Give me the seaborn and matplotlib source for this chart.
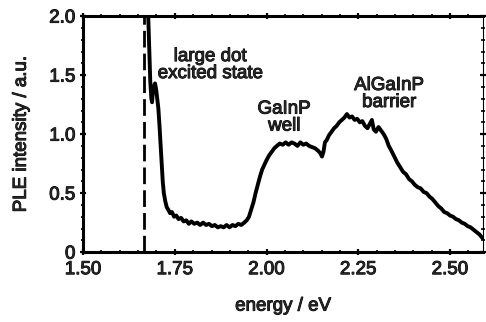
import matplotlib
matplotlib.use("Agg")
import matplotlib.pyplot as plt
import matplotlib.patheffects as pe
import seaborn as sns
import pandas as pd
from matplotlib.ticker import MultipleLocator

energy = [1.674, 1.677, 1.680, 1.683, 1.686, 1.688, 1.690, 1.693, 1.696, 1.699,
          1.702, 1.705, 1.708, 1.711, 1.714, 1.717, 1.720, 1.724, 1.728, 1.732,
          1.737, 1.742, 1.748, 1.754, 1.760, 1.767, 1.774, 1.781, 1.788, 1.795,
          1.803, 1.811, 1.819, 1.827, 1.835, 1.843, 1.851, 1.859, 1.867, 1.875,
          1.883, 1.891, 1.899, 1.907, 1.915, 1.923, 1.931, 1.939, 1.946, 1.952,
          1.958, 1.964, 1.970, 1.976, 1.982, 1.988, 1.994, 2.000, 2.007, 2.014,
          2.021, 2.028, 2.036, 2.044, 2.052, 2.060, 2.068, 2.076, 2.084, 2.092,
          2.100, 2.108, 2.116, 2.124, 2.132, 2.140, 2.146, 2.151, 2.155, 2.159,
          2.164, 2.170, 2.177, 2.184, 2.191, 2.198, 2.205, 2.212, 2.219, 2.226,
          2.233, 2.240, 2.247, 2.254, 2.261, 2.268, 2.275, 2.282, 2.287, 2.292,
          2.298, 2.305, 2.312, 2.319, 2.326, 2.333, 2.340, 2.348, 2.356, 2.364,
          2.372, 2.380, 2.388, 2.396, 2.404, 2.412, 2.420, 2.428, 2.436, 2.444,
          2.452, 2.460, 2.468, 2.476, 2.484, 2.492, 2.500, 2.508, 2.516, 2.524,
          2.532, 2.540, 2.548, 2.556, 2.564, 2.572, 2.580, 2.588]

intensity = [2.30, 2.05, 1.75, 1.45, 1.30, 1.27, 1.36, 1.40, 1.43, 1.38,
             1.30, 1.22, 1.08, 0.92, 0.76, 0.60, 0.50, 0.43, 0.38, 0.36,
             0.33, 0.34, 0.30, 0.31, 0.28, 0.29, 0.26, 0.27, 0.24, 0.26,
             0.24, 0.25, 0.23, 0.25, 0.23, 0.24, 0.22, 0.23, 0.21, 0.22,
             0.21, 0.23, 0.21, 0.23, 0.22, 0.24, 0.23, 0.25, 0.27, 0.30,
             0.36, 0.42, 0.50, 0.57, 0.64, 0.70, 0.74, 0.78, 0.82, 0.85,
             0.88, 0.90, 0.92, 0.91, 0.93, 0.91, 0.93, 0.92, 0.90, 0.93,
             0.91, 0.92, 0.90, 0.89, 0.88, 0.86, 0.84, 0.81, 0.85, 0.93,
             0.95, 0.99, 1.02, 1.05, 1.07, 1.10, 1.12, 1.14, 1.17, 1.14,
             1.15, 1.12, 1.13, 1.10, 1.11, 1.07, 1.05, 1.09, 1.12, 1.04,
             1.02, 1.06, 1.03, 1.00, 0.96, 0.90, 0.86, 0.81, 0.76, 0.72,
             0.68, 0.66, 0.62, 0.60, 0.57, 0.55, 0.54, 0.51, 0.50, 0.47,
             0.45, 0.42, 0.39, 0.37, 0.34, 0.33, 0.31, 0.30, 0.28, 0.27,
             0.25, 0.24, 0.22, 0.21, 0.19, 0.17, 0.15, 0.12]

laser_energy = 1.665

x_ticks = [1.50, 1.75, 2.00, 2.25, 2.50]
x_ticklabels = ["1.50", "1.75", "2.00", "2.25", "2.50"]
y_ticks = [0, 0.5, 1.0, 1.5, 2.0]
y_ticklabels = ["0", "0.5", "1.0", "1.5", "2.0"]

labels = ["large dot\nexcited state", "GaInP\nwell", "AlGaInP\nbarrier"]
label_x = [1.846, 2.048, 2.334]
label_y = [1.585, 1.14, 1.34]

sns.set_style("ticks")
plt.rcParams["font.family"] = ["Liberation Sans", "DejaVu Sans"]
plt.rcParams["font.size"] = 13

bolden = [pe.withStroke(linewidth=0.7, foreground="black")]

df = pd.DataFrame({"energy": energy, "intensity": intensity})

fig = plt.figure(figsize=(4.86, 3.22), dpi=100)
ax = fig.add_axes([0.171, 0.217, 0.823, 0.733])

sns.lineplot(data=df, x="energy", y="intensity", color="black",
             linewidth=2.8, ax=ax, sort=False)
ax.axvline(laser_energy, color="black", linewidth=2.0, dashes=(6, 2.2))

for txt, lx, ly in zip(labels, label_x, label_y):
    ax.text(lx, ly, txt, ha="center", va="center", fontsize=13.5,
            linespacing=1.0, path_effects=bolden)

ax.set_xlim(1.50, 2.59)
ax.set_ylim(0, 2.0)
ax.set_xticks(x_ticks)
ax.set_xticklabels(x_ticklabels)
ax.set_yticks(y_ticks)
ax.set_yticklabels(y_ticklabels)
ax.xaxis.set_minor_locator(MultipleLocator(0.05))
ax.yaxis.set_minor_locator(MultipleLocator(0.1))

ax.tick_params(which="both", direction="inout", top=True, right=True,
               color="black", labelsize=13.5)
ax.tick_params(which="major", length=5, width=1.6)
ax.tick_params(axis="x", which="major", pad=4)
ax.tick_params(axis="y", which="major", pad=3)
ax.tick_params(which="minor", length=3, width=1.2)

for lab in ax.get_xticklabels() + ax.get_yticklabels():
    lab.set_path_effects(bolden)

for side in ["left", "bottom", "top"]:
    ax.spines[side].set_linewidth(2.2)
    ax.spines[side].set_color("black")
ax.spines["right"].set_linewidth(0.8)
ax.spines["right"].set_color("black")

ax.set_xlabel("energy / eV", fontsize=13.5, labelpad=14,
              path_effects=bolden)
ax.set_ylabel("PLE intensity / a.u.", fontsize=13.5, labelpad=14,
              path_effects=bolden)

fig.savefig("out.png", dpi=100)
